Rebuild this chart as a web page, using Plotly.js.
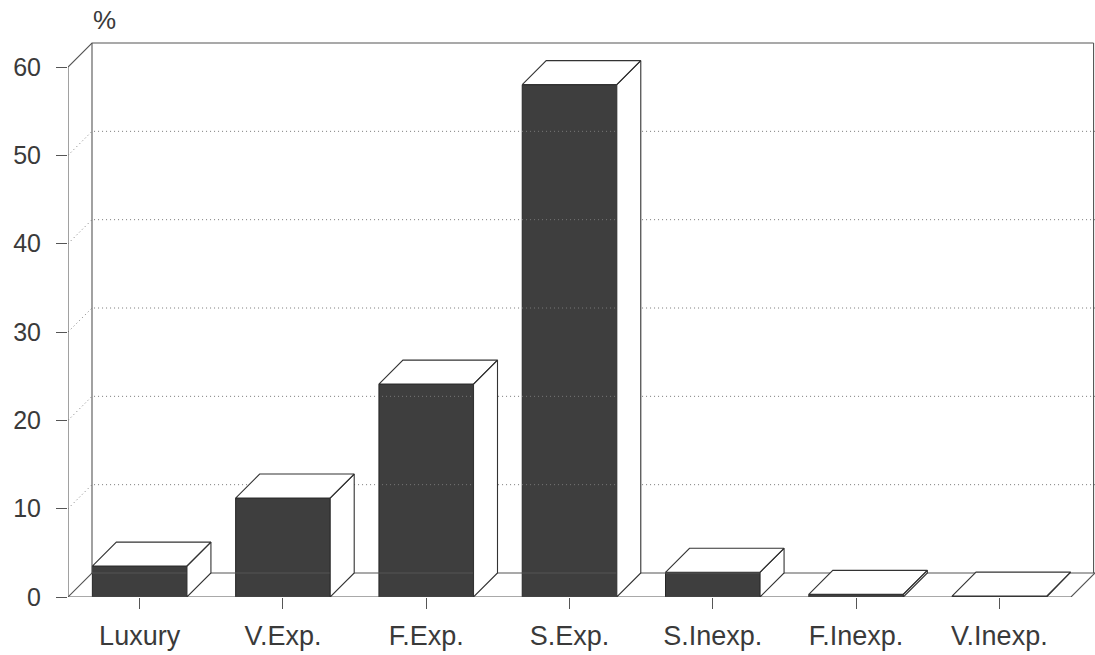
<!DOCTYPE html>
<html>
<head>
<meta charset="utf-8">
<script src="https://cdn.plot.ly/plotly-3.0.1.min.js"></script>
<style>
  html, body { margin: 0; padding: 0; background: #ffffff; }
  #chart { width: 1095px; height: 655px; }
</style>
</head>
<body>
<div id="chart"></div>
<script>
// Share of households by category (%)
const categories = ['Luxury', 'V.Exp.', 'F.Exp.', 'S.Exp.', 'S.Inexp.', 'F.Inexp.', 'V.Inexp.'];
const shares = [3.5, 11.2, 24.1, 58.0, 2.8, 0.3, 0.1];
const yTicks = [0, 10, 20, 30, 40, 50, 60];
const gridValues = [10, 20, 30, 40, 50];

// Page geometry
const W = 1095, H = 655;
const M = { l: 68, r: 0, t: 20, b: 58 };
const plotW = W - M.l - M.r;
const plotH = H - M.t - M.b;
const DEPTH_PX = 24;          // oblique depth of the box, in pixels
const Y_PX_PER_UNIT = 530 / 60;
const nCat = categories.length;

// Convert the depth into data units of each axis
const kx = (plotW - DEPTH_PX) / nCat;
const DX = DEPTH_PX / kx;
const DY = DEPTH_PX / Y_PX_PER_UNIT;
const X0 = -0.5, X1 = nCat - 0.5;
const xRange = [X0, X1 + DX];
const yRange = [0, plotH / Y_PX_PER_UNIT];
const yMax = yTicks[yTicks.length - 1];
const BAR_W = 0.66;

const ink = '#3a3a3a';
const lineStyle = { color: '#555555', width: 1.1 };

function seg(xs, ys, line, name) {
  return { type: 'scatter', mode: 'lines', x: xs, y: ys, line: line,
           hoverinfo: 'skip', showlegend: false, cliponaxis: false, name: name };
}

const traces = [];

// Dotted gridlines: along the left wall and across the back wall
const gx = [], gy = [];
gridValues.forEach(v => {
  gx.push(X0, X0 + DX, X1 + DX, null);
  gy.push(v, v + DY, v + DY, null);
});
traces.push(seg(gx, gy, { color: '#7a7a7a', width: 1, dash: '1px,3px' }, 'grid'));

// Left wall, back wall and floor outlines
traces.push(seg(
  [X0, X0, X0 + DX, X1 + DX - 0.01, null,
   X0 + DX, X0 + DX, null,
   X1 + DX - 0.01, X1 + DX - 0.01, null,
   X0, X1, X1 + DX, null,
   X0, X0 + DX, X1 + DX],
  [0, yMax, yMax + DY, yMax + DY, null,
   DY, yMax + DY, null,
   DY, yMax + DY, null,
   0, 0, DY, null,
   0, DY, DY],
  lineStyle, 'frame'));

// Top and right-side faces of each bar
const fx = [], fy = [];
shares.forEach((v, i) => {
  const a = i - BAR_W / 2, b = i + BAR_W / 2;
  fx.push(a, a + DX, b + DX, b, a, null);
  fy.push(v, v + DY, v + DY, v, v, null);
  fx.push(b, b + DX, b + DX, b, b, null);
  fy.push(0, DY, v + DY, v, 0, null);
});
traces.push({
  type: 'scatter', mode: 'lines', x: fx, y: fy, fill: 'toself',
  fillcolor: '#ffffff', line: { color: '#333333', width: 1.1 },
  hoverinfo: 'skip', showlegend: false, cliponaxis: false
});

// Front faces
traces.push({
  type: 'bar', x: categories.map((_, i) => i), y: shares, width: BAR_W,
  marker: { color: '#3e3e3e', line: { color: '#262626', width: 1 } },
  cliponaxis: false, showlegend: false,
  hovertemplate: '%{customdata}: %{y}%<extra></extra>',
  customdata: categories
});

const layout = {
  width: W, height: H,
  margin: M,
  paper_bgcolor: '#ffffff', plot_bgcolor: 'rgba(0,0,0,0)',
  showlegend: false,
  font: { family: '"Liberation Sans", Arial, sans-serif', color: ink },
  xaxis: {
    range: xRange, fixedrange: true,
    tickvals: categories.map((_, i) => i), ticktext: categories,
    ticks: 'outside', ticklen: 11, tickwidth: 1, tickcolor: '#555',
    ticklabelstandoff: 4,
    tickfont: { size: 27, color: ink },
    showline: false, showgrid: false, zeroline: false
  },
  yaxis: {
    range: yRange, fixedrange: true,
    tickvals: yTicks,
    ticks: 'outside', ticklen: 11, tickwidth: 1, tickcolor: '#555',
    ticklabelstandoff: 10,
    tickfont: { size: 25, color: ink },
    showline: false, showgrid: false, zeroline: false
  },
  annotations: [{
    text: '%', showarrow: false,
    xref: 'paper', yref: 'paper',
    x: (104 - M.l) / plotW, y: (H - M.b - 20) / plotH,
    xanchor: 'center', yanchor: 'middle',
    font: { size: 26, color: ink }
  }]
};

Plotly.newPlot('chart', traces, layout, { displayModeBar: false, staticPlot: true });
</script>
</body>
</html>
